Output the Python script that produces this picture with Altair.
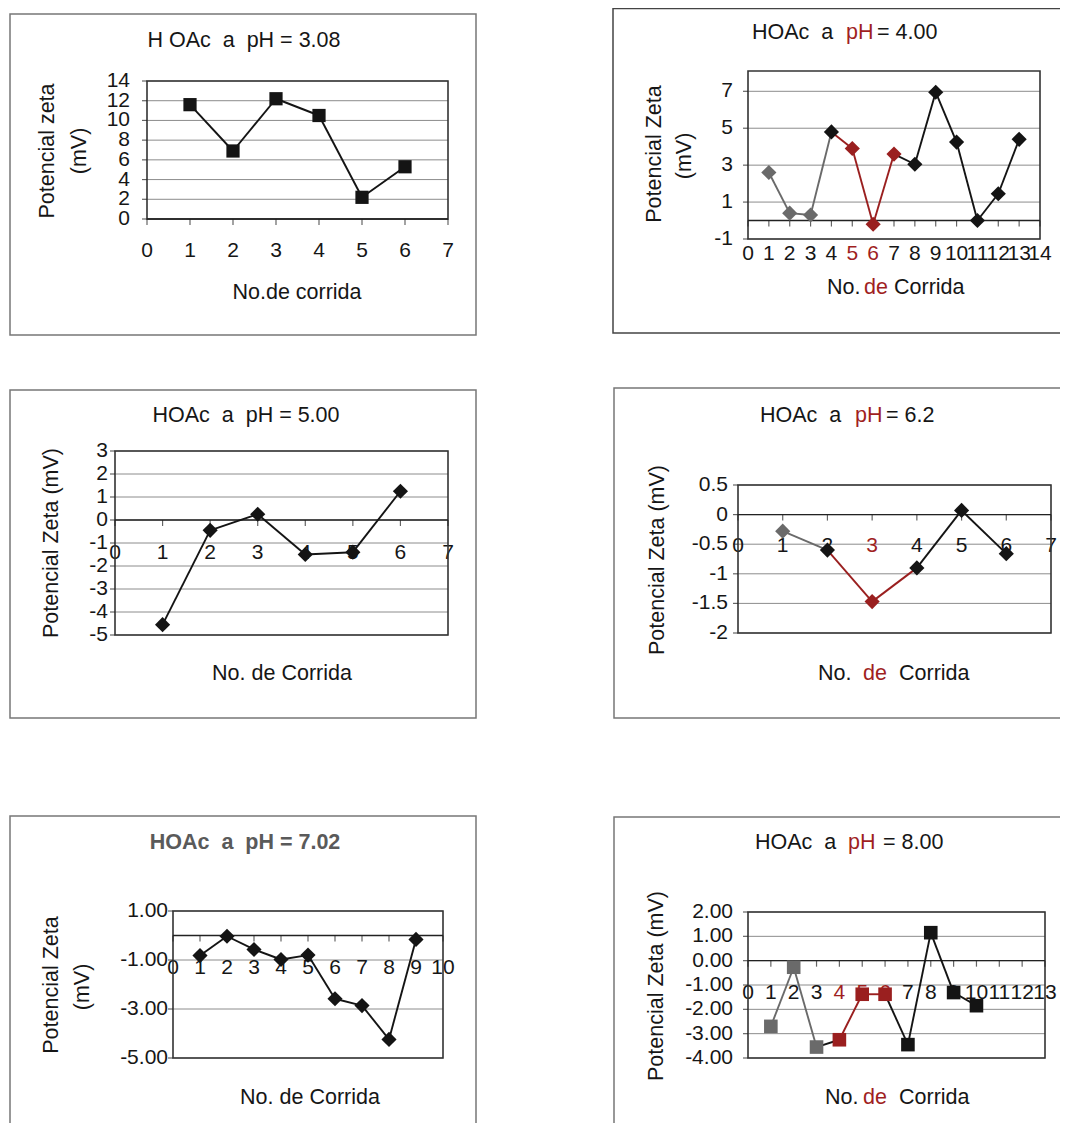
import altair as alt
import pandas as pd

# ---------------- data ----------------
corrida_308 = [1, 2, 3, 4, 5, 6]
zeta_308 = [11.6, 6.9, 12.2, 10.5, 2.2, 5.3]

corrida_400 = [1, 2, 3, 4, 5, 6, 7, 8, 9, 10, 11, 12, 13]
zeta_400 = [2.6, 0.4, 0.3, 4.8, 3.9, -0.2, 3.6, 3.05, 6.95, 4.25, 0.0, 1.45, 4.4]
tono_400 = ["gris", "gris", "gris", "negro", "rojo", "rojo", "rojo",
            "negro", "negro", "negro", "negro", "negro", "negro"]
tramo_400 = ["gris", "gris", "gris", "rojo", "rojo", "rojo",
             "negro", "negro", "negro", "negro", "negro", "negro"]

corrida_500 = [1, 2, 3, 4, 5, 6]
zeta_500 = [-4.55, -0.45, 0.25, -1.5, -1.4, 1.25]

corrida_620 = [1, 2, 3, 4, 5, 6]
zeta_620 = [-0.28, -0.6, -1.47, -0.9, 0.07, -0.66]
tono_620 = ["gris", "negro", "rojo", "negro", "negro", "negro"]
tramo_620 = ["gris", "rojo", "rojo", "negro", "negro"]

corrida_702 = [1, 2, 3, 4, 5, 6, 7, 8, 9]
zeta_702 = [-0.82, -0.03, -0.57, -0.98, -0.8, -2.58, -2.86, -4.24, -0.16]

corrida_800 = [1, 2, 3, 4, 5, 6, 7, 8, 9, 10]
zeta_800 = [-2.7, -0.27, -3.55, -3.25, -1.38, -1.38, -3.45, 1.15, -1.31, -1.85]
tono_800 = ["gris", "gris", "gris", "rojo", "rojo", "rojo",
            "negro", "negro", "negro", "negro"]
tramo_800 = ["gris", "gris", "negro", "rojo", "rojo", "negro", "negro", "negro", "negro"]

# tick values / grid lines
xt_308 = [0, 1, 2, 3, 4, 5, 6, 7]
yt_308 = [0, 2, 4, 6, 8, 10, 12, 14]
xt_400 = list(range(0, 15))
yt_400 = [-1, 1, 3, 5, 7]
xt_500 = [0, 1, 2, 3, 4, 5, 6, 7]
yt_500 = [-5, -4, -3, -2, -1, 0, 1, 2, 3]
xt_620 = [0, 1, 2, 3, 4, 5, 6, 7]
yt_620 = [-2, -1.5, -1, -0.5, 0, 0.5]
xt_702 = list(range(0, 11))
yt_702 = [-5, -3, -1, 1]
xt_800 = list(range(0, 14))
yt_800 = [-4, -3, -2, -1, 0, 1, 2]

# ---------------- styling ----------------
W, H = 1052, 1115
FONT = "Liberation Sans"
INK = "#161616"
RED = "#a01f1f"
GRIDC = "#8c8c8c"
LABSIZE = 21
ONE = pd.DataFrame({"k": [0]})
TONOS = alt.Scale(domain=["gris", "negro", "rojo"], range=["#6a6a6a", "#141414", "#9a1f1f"])


def nb(s):
    return s.replace("  ", "\u00a0 ")


def fmt(v, dec):
    s = ("%." + str(dec) + "f") % abs(v) if dec else ("%g" % abs(v))
    return ("-" + s) if v < 0 else s


def texto(s, x, y, align="center", color=INK, size=21.5, angle=0, weight="normal"):
    return alt.Chart(ONE).mark_text(
        text=nb(s), align=align, baseline="middle", font=FONT, fontSize=size,
        color=color, angle=angle, fontWeight=weight
    ).encode(x=alt.value(x), y=alt.value(y))


def marco(x0, x1, y0, y1, color="#777777"):
    return alt.Chart(ONE).mark_rect(fillOpacity=0, stroke=color, strokeWidth=1.5).encode(
        x=alt.value(x0), x2=alt.value(x1), y=alt.value(y0), y2=alt.value(y1))


def panel(runs, vals, tonos, tramos, shape, xdom, ydom, xticks, yticks, grid,
          xr, yr, xlab_y, ylab_x, dec, red_x, extra, msize=230):
    xs = alt.Scale(domain=xdom, range=xr, nice=False, zero=False)
    ys = alt.Scale(domain=ydom, range=[yr[1], yr[0]], nice=False, zero=False)
    X = lambda f: alt.X(f, scale=xs, axis=None)
    Y = lambda f: alt.Y(f, scale=ys, axis=None)

    pts = pd.DataFrame({"corrida": runs, "zeta": vals, "tono": tonos})
    segs = pd.DataFrame({"xa": runs[:-1], "xb": runs[1:], "ya": vals[:-1],
                         "yb": vals[1:], "tono": tramos})
    gl = pd.DataFrame({"v": grid, "xa": xdom[0], "xb": xdom[1]})
    box = pd.DataFrame({"xa": [xdom[0]], "xb": [xdom[1]], "ya": [ydom[0]], "yb": [ydom[1]]})
    xaxis_df = pd.DataFrame({"xa": [xdom[0]], "xb": [xdom[1]], "cero": [0.0]})
    xt = pd.DataFrame({"t": xticks, "cero": 0.0,
                       "lab": [str(t) for t in xticks],
                       "rojo": [t in red_x for t in xticks]})
    yt = pd.DataFrame({"t": yticks, "x0": xdom[0], "lab": [fmt(t, dec) for t in yticks]})

    grid_l = alt.Chart(gl).mark_rule(color=GRIDC, strokeWidth=1).encode(
        x=X("xa:Q"), x2="xb:Q", y=Y("v:Q"))
    box_l = alt.Chart(box).mark_rect(fillOpacity=0, stroke="#333333", strokeWidth=1.6).encode(
        x=X("xa:Q"), x2="xb:Q", y=Y("ya:Q"), y2="yb:Q")
    axis_l = alt.Chart(xaxis_df).mark_rule(color="#222222", strokeWidth=1.4).encode(
        x=X("xa:Q"), x2="xb:Q", y=Y("cero:Q"))
    xtick_l = alt.Chart(xt).mark_tick(orient="vertical", size=6, thickness=1.2,
                                      color="#222222", yOffset=3).encode(
        x=X("t:Q"), y=Y("cero:Q"))
    ytick_l = alt.Chart(yt).mark_tick(orient="horizontal", size=5, thickness=1.2,
                                      color="#222222", xOffset=-2.5).encode(
        x=X("x0:Q"), y=Y("t:Q"))
    xlab_l = alt.Chart(xt).mark_text(font=FONT, fontSize=LABSIZE, baseline="middle",
                                     align="center").encode(
        x=X("t:Q"), y=alt.value(xlab_y + 1), text="lab:N",
        color=alt.condition("datum.rojo", alt.value(RED), alt.value(INK)))
    ylab_l = alt.Chart(yt).mark_text(font=FONT, fontSize=LABSIZE, baseline="middle",
                                     align="right", color=INK).encode(
        x=alt.value(ylab_x), y=Y("t:Q"), text="lab:N")
    seg_l = alt.Chart(segs).mark_rule(strokeWidth=1.9).encode(
        x=X("xa:Q"), x2="xb:Q", y=Y("ya:Q"), y2="yb:Q",
        color=alt.Color("tono:N", scale=TONOS, legend=None))
    pt_l = alt.Chart(pts).mark_point(filled=True, shape=shape, size=msize, opacity=1).encode(
        x=X("corrida:Q"), y=Y("zeta:Q"),
        color=alt.Color("tono:N", scale=TONOS, legend=None))
    return alt.layer(grid_l, xlab_l, ylab_l, box_l, axis_l, xtick_l, ytick_l,
                     seg_l, pt_l, *extra)


negros = lambda n: ["negro"] * n

p1 = panel(corrida_308, zeta_308, negros(6), negros(5), "square",
           [0, 7], [0, 14], xt_308, yt_308, yt_308,
           [139, 440], [73, 211], 242, 122, 0, [],
           [marco(2, 468, 6, 327),
            texto("H OAc  a  pH = 3.08", 236, 33),
            texto("Potencial zeta", 40, 143, angle=270),
            texto("(mV)", 72, 143, angle=270),
            texto("No.de corrida", 289, 285)], msize=175)

p2 = panel(corrida_400, zeta_400, tono_400, tramo_400, "diamond",
           [0, 14], [-1, 8.1], xt_400, yt_400, yt_400,
           [740, 1032], [63, 231], 245, 725, 0, [5, 6],
           [marco(605, 1075, 0.5, 325, "#444444"),
            texto("HOAc  a", 744, 25, align="left"),
            texto("pH", 838, 25, align="left", color=RED),
            texto("= 4.00", 869, 25, align="left"),
            texto("Potencial Zeta", 647, 146, angle=270),
            texto("(mV)", 677, 148, angle=270),
            texto("No.", 819, 280, align="left"),
            texto("de", 856, 280, align="left", color=RED),
            texto("Corrida", 886, 280, align="left")])

p3 = panel(corrida_500, zeta_500, negros(6), negros(5), "diamond",
           [0, 7], [-5, 3], xt_500, yt_500, yt_500,
           [107, 440], [443, 627], 544, 100, 0, [],
           [marco(2, 468, 382, 710),
            texto("HOAc  a  pH = 5.00", 238, 408),
            texto("Potencial Zeta (mV)", 44, 535, angle=270),
            texto("No. de Corrida", 274, 666)])

p4 = panel(corrida_620, zeta_620, tono_620, tramo_620, "diamond",
           [0, 7], [-2, 0.5], xt_620, yt_620, yt_620,
           [730, 1043], [477, 625], 537, 720, 0, [3],
           [marco(606, 1075, 380, 710),
            texto("HOAc  a", 752, 408, align="left"),
            texto("pH", 847, 408, align="left", color=RED),
            texto("= 6.2", 878, 408, align="left"),
            texto("Potencial Zeta (mV)", 650, 552, angle=270),
            texto("No.", 810, 666, align="left"),
            texto("de", 855, 666, align="left", color=RED),
            texto("Corrida", 891, 666, align="left")])

p5 = panel(corrida_702, zeta_702, negros(9), negros(8), "diamond",
           [0, 10], [-5, 1], xt_702, yt_702, yt_702,
           [165, 435], [903, 1050], 959, 160, 2, [],
           [marco(2, 468, 808, 1140),
            texto("HOAc  a  pH = 7.02", 237, 835, color="#5a5a5a", weight="bold"),
            texto("Potencial Zeta", 44, 977, angle=270),
            texto("(mV)", 75, 979, angle=270),
            texto("No. de Corrida", 302, 1090)])

p6 = panel(corrida_800, zeta_800, tono_800, tramo_800, "square",
           [0, 13], [-4, 2], xt_800, yt_800, yt_800,
           [740, 1037], [904, 1050], 984, 725, 2, [4, 5, 6],
           [marco(606, 1075, 809, 1140),
            texto("HOAc  a", 747, 835, align="left"),
            texto("pH", 840, 835, align="left", color=RED),
            texto("= 8.00", 875, 835, align="left"),
            texto("Potencial Zeta (mV)", 649, 978, angle=270),
            texto("No.", 817, 1090, align="left"),
            texto("de", 855, 1090, align="left", color=RED),
            texto("Corrida", 891, 1090, align="left")], msize=185)

chart = alt.layer(p1, p2, p3, p4, p5, p6).resolve_scale(
    x="independent", y="independent"
).properties(
    width=W, height=H, padding=0, background="white",
    autosize=alt.AutoSizeParams(type="none")
).configure_view(strokeWidth=0)

chart.save("out.html", embed_options={"renderer": "svg", "actions": False})
